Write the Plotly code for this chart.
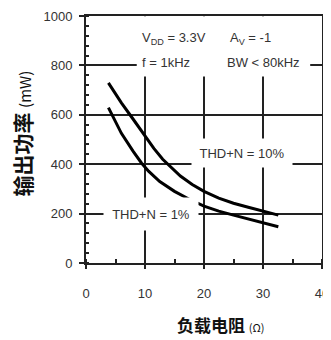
import plotly.graph_objects as go

# Load resistance (ohm) and output power (mW)
r_thd10 = [3.8, 6, 8, 10, 11.5, 13, 14.5, 16, 18, 20, 22.5, 25, 27.5, 30, 32.6]
p_thd10 = [729, 648, 582, 512, 464, 420, 384, 352, 318, 290, 263, 242, 226, 211, 194]

r_thd1 = [3.8, 6, 8, 9.4, 10.6, 12.5, 15, 17.5, 20, 22.5, 25, 27.5, 30, 32.6]
p_thd1 = [629, 525, 452, 405, 372, 330, 290, 258, 230, 210, 194, 178, 162, 147]

x_ticks = [0, 10, 20, 30, 40]
y_ticks = [0, 200, 400, 600, 800, 1000]

LAT = "Liberation Sans, Arial, sans-serif"
CJK = "Noto Sans CJK SC, sans-serif"
TXT = "#333333"

fig = go.Figure()
fig.add_trace(go.Scatter(x=r_thd10, y=p_thd10, mode="lines", line=dict(color="black", width=3),
                         showlegend=False, hoverinfo="skip"))
fig.add_trace(go.Scatter(x=r_thd1, y=p_thd1, mode="lines", line=dict(color="black", width=3),
                         showlegend=False, hoverinfo="skip"))

axis_common = dict(
    showline=True, linecolor="#222222", linewidth=2, mirror=True,
    showgrid=True, gridcolor="#222222", gridwidth=2,
    zeroline=False, ticks="outside", tickcolor="#222222", tickwidth=2,
    tickfont=dict(family=LAT, size=13, color=TXT), automargin=False,
)

fig.update_xaxes(range=[0, 40], tickvals=x_ticks, ticklen=4, ticklabelstandoff=13,
                 minor=dict(dtick=5, ticks="inside", ticklen=4, tickwidth=2, tickcolor="#222222", showgrid=False),
                 **axis_common)
fig.update_yaxes(range=[0, 1000], tickvals=y_ticks, ticklen=5, ticklabelstandoff=4,
                 minor=dict(dtick=40, ticks="inside", ticklen=3, tickwidth=2, tickcolor="#222222", showgrid=False),
                 **axis_common)

# white box behind the condition text (covers grid)
fig.add_shape(type="rect", xref="x", yref="y", x0=8.6, x1=38.0, y0=755, y1=999,
              fillcolor="white", line=dict(width=0), layer="between")

ann_font = dict(family=LAT, size=13, color=TXT)
fig.add_annotation(x=9.1, y=909, text="V<sub>DD</sub> = 3.3V", showarrow=False, xanchor="left", font=ann_font)
fig.add_annotation(x=24.0, y=909, text="A<sub>V</sub> = -1", showarrow=False, xanchor="left", font=ann_font)
fig.add_annotation(x=9.1, y=812, text="f = 1kHz", showarrow=False, xanchor="left", font=ann_font)
fig.add_annotation(x=23.5, y=812, text="BW &lt; 80kHz", showarrow=False, xanchor="left", font=ann_font)

fig.add_annotation(x=26.4, y=444, text="THD+N = 10%", showarrow=False, font=ann_font,
                   bgcolor="white", width=98, height=26)
fig.add_annotation(x=11.0, y=198, text="THD+N = 1%", showarrow=False, font=ann_font,
                   bgcolor="white", width=92, height=30)

# axis titles
fig.add_annotation(xref="paper", yref="paper", x=-0.27, y=0.525, textangle=-90,
                   xanchor="center", yanchor="middle",
                   text="<b>输出功率</b> <span style='font-size:15px'>(mW)</span>",
                   showarrow=False, font=dict(family=CJK, size=21, color="#111111"))
fig.add_annotation(xref="paper", yref="paper", x=0.57, y=-0.25,
                   xanchor="center", yanchor="middle",
                   text="<b>负载电阻</b> <span style='font-size:11px'>(Ω)</span>",
                   showarrow=False, font=dict(family=CJK, size=17, color="#111111"))

# page body has an 8px margin, so the figure is 8px smaller and its margins shifted
fig.update_layout(width=323, height=332, margin=dict(l=78, r=9, t=8, b=77),
                  paper_bgcolor="white", plot_bgcolor="white")

fig.write_html("out.html")
